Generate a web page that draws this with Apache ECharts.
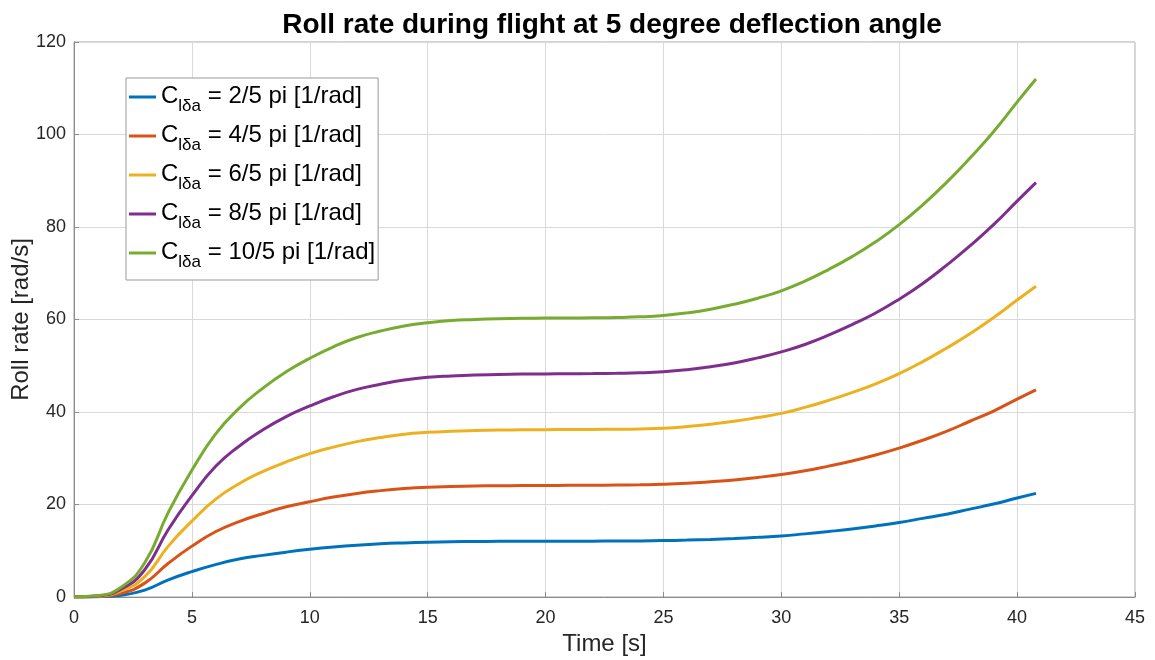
<!DOCTYPE html>
<html>
<head>
<meta charset="utf-8">
<title>Roll rate</title>
<script src="https://cdn.jsdelivr.net/npm/echarts@6/dist/echarts.min.js"></script>
<style>
html, body { margin: 0; padding: 0; background: #fff; }
#chart { width: 1155px; height: 660px; }
</style>
</head>
<body>
<div id="chart"></div>
<script>
// time samples [s]
var times = [0, 1, 2, 3, 4, 5, 6, 7, 8, 9, 10, 11, 12, 13, 14, 15, 16, 17, 18, 19, 20, 21, 22, 23, 24, 25, 26, 27, 28, 29, 30, 31, 32, 33, 34, 35, 36, 37, 38, 39, 40, 40.8];
// roll rate [rad/s] per coefficient
var rate2 = [0, 0.06, 0.4, 1.5, 3.7, 5.5, 7.0, 8.2, 9.0, 9.7, 10.3, 10.8, 11.2, 11.5, 11.7, 11.85, 11.95, 12.0, 12.03, 12.05, 12.06, 12.07, 12.08, 12.1, 12.13, 12.2, 12.3, 12.45, 12.65, 12.9, 13.2, 13.65, 14.15, 14.7, 15.35, 16.1, 17.0, 17.9, 19.0, 20.1, 21.4, 22.4];
var rate4 = [0, 0.12, 0.8, 3.0, 7.3, 11.0, 14.1, 16.3, 18.0, 19.5, 20.6, 21.6, 22.4, 23.0, 23.45, 23.75, 23.9, 24.0, 24.05, 24.1, 24.12, 24.14, 24.16, 24.2, 24.26, 24.36, 24.57, 24.9, 25.3, 25.85, 26.5, 27.3, 28.3, 29.4, 30.7, 32.2, 33.9, 35.8, 38.0, 40.2, 42.8, 44.8];
var rate6 = [0, 0.18, 1.3, 4.4, 11.0, 16.4, 21.1, 24.5, 27.1, 29.2, 31.0, 32.4, 33.6, 34.5, 35.2, 35.6, 35.85, 36.0, 36.1, 36.15, 36.18, 36.2, 36.23, 36.27, 36.35, 36.5, 36.85, 37.35, 38.0, 38.8, 39.7, 41.0, 42.5, 44.2, 46.1, 48.3, 50.9, 53.8, 56.9, 60.4, 64.2, 67.2];
var rate8 = [0, 0.24, 1.7, 5.9, 14.6, 21.9, 28.2, 32.6, 36.1, 39.0, 41.3, 43.3, 44.9, 46.0, 46.9, 47.5, 47.8, 48.0, 48.1, 48.2, 48.24, 48.27, 48.3, 48.36, 48.46, 48.7, 49.15, 49.8, 50.6, 51.7, 53.0, 54.6, 56.6, 58.9, 61.4, 64.4, 67.8, 71.7, 75.9, 80.5, 85.6, 89.6];
var rate10 = [0, 0.3, 2.1, 7.4, 18.3, 27.4, 35.2, 40.8, 45.1, 48.7, 51.6, 54.1, 56.1, 57.5, 58.6, 59.3, 59.8, 60.0, 60.15, 60.25, 60.3, 60.33, 60.37, 60.43, 60.57, 60.87, 61.43, 62.23, 63.3, 64.6, 66.2, 68.3, 70.8, 73.6, 76.8, 80.5, 84.8, 89.6, 94.9, 100.6, 107.0, 112.0];

var coefLabels = ['2/5', '4/5', '6/5', '8/5', '10/5'];
var allRates = [rate2, rate4, rate6, rate8, rate10];
var colors = ['#0072BD', '#D95319', '#EDB120', '#7E2F8E', '#77AC30'];

var font = '"Liberation Sans", Arial, Helvetica, sans-serif';
var textColor = '#262626';

function pairs(vals) {
	var out = [];
	for (var i = 0; i < times.length; i++) {
		out.push([times[i], vals[i]]);
	}
	return out;
}

var series = [];
for (var k = 0; k < coefLabels.length; k++) {
	series.push({
		name: coefLabels[k],
		type: 'line',
		data: pairs(allRates[k]),
		smooth: 0.5,
		symbol: 'none',
		lineStyle: { width: 3, color: colors[k] },
		itemStyle: { color: colors[k] }
	});
}

var myChart = echarts.init(document.getElementById('chart'));
var option = {
	backgroundColor: '#fff',
	animation: false,
	title: {
		text: 'Roll rate during flight at 5 degree deflection angle',
		left: 607,
		top: 6,
		textAlign: 'center',
		textStyle: { fontFamily: font, fontSize: 28, fontWeight: 'bold', color: '#000' }
	},
	grid: {
		left: 74,
		right: 20,
		top: 42,
		bottom: 63,
		outerBoundsMode: 'none',
		show: true,
		borderColor: '#a6a6a6',
		borderWidth: 1
	},
	legend: {
		orient: 'vertical',
		left: 126,
		top: 78,
		backgroundColor: '#fff',
		borderColor: '#9a9a9a',
		borderWidth: 1,
		borderRadius: 0,
		padding: [6, 3, 9, 3],
		itemGap: 8,
		itemWidth: 27,
		itemHeight: 3,
		icon: 'rect',
		formatter: function(name) {
			return '{c|C}{s|lδa}{t| = ' + name + ' pi [1/rad]}';
		},
		textStyle: {
			fontFamily: font,
			color: '#000',
			rich: {
				c: { fontFamily: font, fontSize: 24, color: '#000', lineHeight: 26, verticalAlign: 'top' },
				s: { fontFamily: font, fontSize: 17, color: '#000', lineHeight: 17, verticalAlign: 'top', padding: [14, 0, 0, 0] },
				t: { fontFamily: font, fontSize: 24, color: '#000', lineHeight: 26, verticalAlign: 'top' }
			}
		}
	},
	xAxis: {
		type: 'value',
		min: 0,
		max: 45,
		interval: 5,
		name: 'Time [s]',
		nameLocation: 'middle',
		nameGap: 35,
		nameMoveOverlap: false,
		nameTextStyle: { fontFamily: font, fontSize: 24, color: textColor },
		axisLine: { show: true, lineStyle: { color: '#8c8c8c' } },
		axisTick: { show: true, inside: true, length: 5, lineStyle: { color: '#8c8c8c' } },
		axisLabel: { fontFamily: font, fontSize: 18, color: textColor, margin: 12 },
		splitLine: { show: true, lineStyle: { color: '#d9d9d9', width: 1 } }
	},
	yAxis: {
		type: 'value',
		min: 0,
		max: 120,
		interval: 20,
		name: 'Roll rate [rad/s]',
		nameLocation: 'middle',
		nameGap: 41,
		nameMoveOverlap: false,
		nameTextStyle: { fontFamily: font, fontSize: 24, color: textColor },
		axisLine: { show: true, lineStyle: { color: '#8c8c8c' } },
		axisTick: { show: true, inside: true, length: 5, lineStyle: { color: '#8c8c8c' } },
		axisLabel: { fontFamily: font, fontSize: 18, color: textColor, margin: 8 },
		splitLine: { show: true, lineStyle: { color: '#d9d9d9', width: 1 } }
	},
	series: series
};
myChart.setOption(option);
</script>
</body>
</html>
